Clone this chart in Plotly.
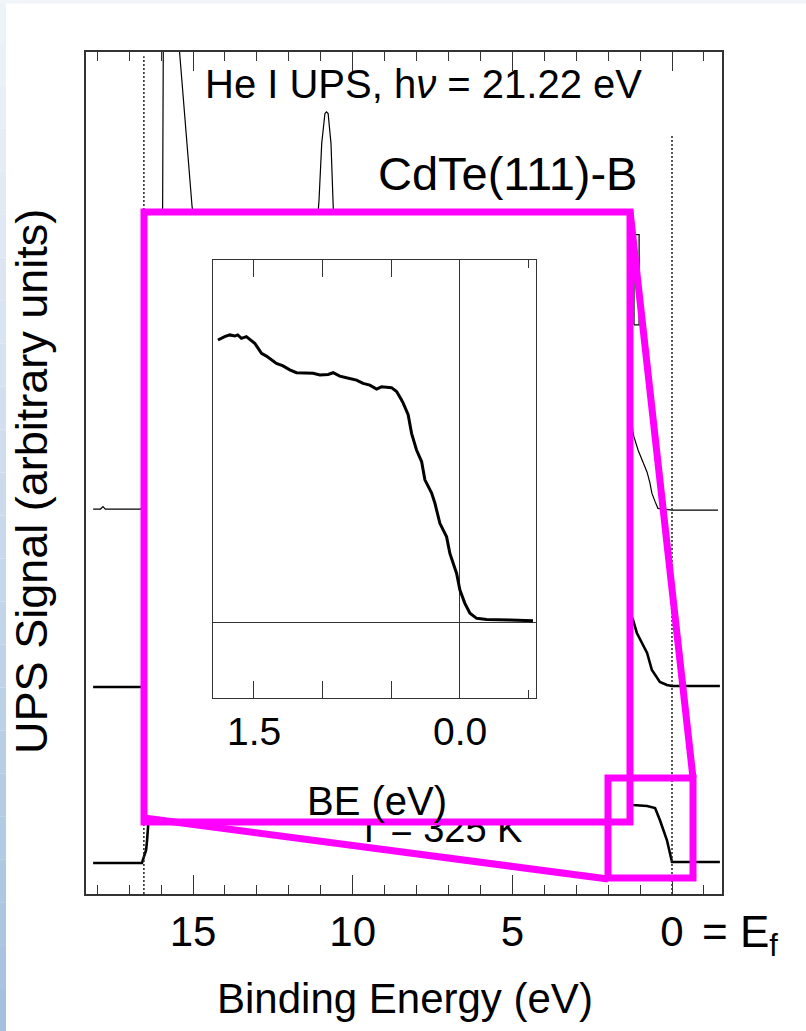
import plotly.graph_objects as go

# ---------------- data ----------------
# Main panel: binding energy (eV) vs UPS signal (arbitrary units, stacked offsets)
be_top = [18.13, 17.90, 17.82, 17.75, 16.66, 16.45, 16.2, 16.0, 15.953, 15.934, 15.93,
          15.41, 15.03, 14.5, 13.0, 12.0, 11.3, 11.055, 10.97, 10.87, 10.82, 10.77,
          10.68, 10.61, 10.3, 9.0, 6.0, 4.0, 2.5, 1.6, 1.4, 1.22, 1.19, 1.06, 0.91,
          0.78, 0.69, 0.63, 0.53, 0.44, 0.0, -1.44]
sig_top = [45.72, 45.72, 46.0, 45.72, 45.72, 46.0, 60, 78, 81.6, 99.3, 123.8,
           99.4, 81.6, 70, 60, 62, 70, 82.4, 89.15, 92.7, 92.9, 92.7,
           89.15, 81.6, 68, 62, 62, 66, 70, 66, 62, 54.75, 54.28, 52.7, 51.3,
           50.1, 48.8, 47.6, 46.6, 45.8, 45.6, 45.6]

# small closed feature of the thin curve near 1.1 eV
be_top_frag = [1.19, 1.19, 1.03, 1.03, 1.19]
sig_top_frag = [67.6, 78.3, 78.3, 67.6, 67.6]

be_mid = [18.13, 16.66, 16.45, 16.3, 16.0, 15.5, 15.0, 14.0, 12.0, 11.0, 10.8, 10.5,
          9.0, 6.0, 3.5, 2.0, 1.4, 1.22, 1.10, 0.78, 0.63, 0.38, 0.16, 0.0, -1.50]
sig_mid = [24.58, 24.58, 24.6, 45, 62, 66, 55, 42, 36, 42, 60, 42,
           36, 38, 42, 40, 34, 32.54, 31.0, 28.62, 26.6, 25.18, 24.82, 24.7, 24.7]

be_bot = [18.13, 16.60, 16.57, 16.47, 16.44, 16.41, 16.3, 16.0, 15.6, 15.0, 14.0,
          13.0, 12.0, 11.2, 10.8, 10.4, 9.0, 7.0, 5.0, 3.5, 2.5, 1.8, 1.4, 1.22,
          0.78, 0.53, 0.38, 0.16, 0.0, -1.50]
sig_bot = [3.68, 3.68, 4.04, 5.23, 6.41, 7.96, 20, 40, 50, 45, 35,
           30, 28, 30, 45, 30, 22, 20, 22, 24, 20, 14, 11, 10.57,
           10.45, 10.21, 8.79, 6.41, 3.8, 3.8]

# reference (dotted) lines: secondary-electron cutoff and Fermi level
cutoff_be = [16.54, 16.54]
cutoff_sig = [0, 99.5]
ef_be = [0.0, 0.0]
ef_sig = [0, 90.1]

# temperature label
temp_label = ["T = 325 K"]
temp_be = [7.27]
temp_sig = [7.34]

# main axis ticks
main_tickvals = [15, 10, 5, 0]
main_ticktext = ["15", "10", "5", "0"]

# Inset: valence-band edge, BE (eV) vs normalised signal
be_in = [1.762, 1.713, 1.676, 1.640, 1.618, 1.591, 1.555, 1.531, 1.494, 1.470,
         1.445, 1.409, 1.372, 1.336, 1.288, 1.239, 1.190, 1.069, 1.020, 0.960,
         0.923, 0.875, 0.826, 0.753, 0.705, 0.656, 0.607, 0.571, 0.498, 0.461,
         0.425, 0.413, 0.377, 0.352, 0.316, 0.279, 0.255, 0.206, 0.182, 0.146,
         0.097, 0.073, 0.024, 0.000, -0.036, -0.073, -0.122, -0.195, -0.364, -0.532]
sig_in = [1.000, 1.012, 1.018, 1.014, 1.018, 1.006, 1.012, 1.003, 0.988, 0.971,
          0.953, 0.943, 0.929, 0.917, 0.908, 0.894, 0.884, 0.882, 0.876, 0.878,
          0.884, 0.872, 0.866, 0.858, 0.846, 0.840, 0.826, 0.834, 0.831, 0.817,
          0.787, 0.776, 0.735, 0.669, 0.610, 0.569, 0.504, 0.457, 0.421, 0.350,
          0.302, 0.243, 0.172, 0.113, 0.066, 0.031, 0.013, 0.009, 0.007, 0.004]
inset_tickvals = [1.5, 1.0, 0.5, 0.0]
inset_label_vals = [1.5, 0.0]
inset_label_text = ["1.5", "0.0"]

# ---------------- styling ----------------
FONT = "Liberation Sans, Arial, Helvetica, sans-serif"
INK = "#000000"
FRAME = "#333333"
MAGENTA = "#FF00FF"

W, H = 806, 1031
ML, MR, MT, MB = 86, 84, 52, 137
PW, PH = W - ML - MR, H - MT - MB


def px(xp):
    return (xp - ML) / PW


def py(yp):
    return (H - MB - yp) / PH


fig = go.Figure()

# main spectra
fig.add_trace(go.Scatter(x=be_top, y=sig_top, mode="lines",
                         line=dict(color=INK, width=1.2), hoverinfo="skip"))
fig.add_trace(go.Scatter(x=be_top_frag, y=sig_top_frag, mode="lines",
                         line=dict(color=INK, width=1.2), hoverinfo="skip"))
fig.add_trace(go.Scatter(x=be_mid, y=sig_mid, mode="lines",
                         line=dict(color=INK, width=2.6), hoverinfo="skip"))
fig.add_trace(go.Scatter(x=be_bot, y=sig_bot, mode="lines",
                         line=dict(color=INK, width=2.6), hoverinfo="skip"))
fig.add_trace(go.Scatter(x=cutoff_be, y=cutoff_sig, mode="lines",
                         line=dict(color="#222222", width=1.5, dash="2px,2px"),
                         hoverinfo="skip"))
fig.add_trace(go.Scatter(x=ef_be, y=ef_sig, mode="lines",
                         line=dict(color="#222222", width=1.5, dash="2px,2px"),
                         hoverinfo="skip"))
fig.add_trace(go.Scatter(x=temp_be, y=temp_sig, mode="text", text=temp_label,
                         textposition="middle center",
                         textfont=dict(family=FONT, size=38, color=INK),
                         hoverinfo="skip"))

# white cover panel for the magnified view (its own subplot, drawn above main traces)
fig.add_trace(go.Scatter(x=[0.5], y=[0.5], mode="markers", marker=dict(opacity=0),
                         xaxis="x2", yaxis="y2", hoverinfo="skip"))

# inset spectrum
fig.add_trace(go.Scatter(x=be_in, y=sig_in, mode="lines",
                         line=dict(color=INK, width=3), xaxis="x3", yaxis="y3",
                         hoverinfo="skip"))

axis_common = dict(showgrid=False, zeroline=False)

fig.update_layout(
    width=W, height=H, autosize=False,
    margin=dict(l=ML, r=MR, t=MT, b=MB, pad=0),
    paper_bgcolor="white", plot_bgcolor="white",
    showlegend=False,
    font=dict(family=FONT, color=INK),
    xaxis=dict(**axis_common, domain=[0, 1], range=[18.353, -1.566],
               showline=True, linecolor=FRAME, linewidth=1.5, mirror="allticks",
               ticks="inside", ticklen=19, tickwidth=1.3, tickcolor=FRAME,
               tickmode="array", tickvals=main_tickvals, ticktext=main_ticktext,
               tickfont=dict(family=FONT, size=42, color=INK),
               ticklabelstandoff=0,
               minor=dict(ticks="inside", ticklen=9, tickwidth=1.3,
                          tickcolor=FRAME, dtick=1, tick0=0, showgrid=False)),
    yaxis=dict(**axis_common, domain=[0, 1], range=[0, 100],
               showline=True, linecolor=FRAME, linewidth=1.5, mirror=True,
               ticks="", showticklabels=False),
    xaxis2=dict(visible=False, domain=[px(144), px(630)], range=[0, 1],
                anchor="y2", showgrid=False, zeroline=False),
    yaxis2=dict(visible=False, domain=[py(822), py(212)], range=[0, 1],
                anchor="x2", showgrid=False, zeroline=False),
    xaxis3=dict(showgrid=False, domain=[px(213), px(536)], range=[1.798, -0.554],
                anchor="y3", showline=True, linecolor=FRAME, linewidth=1.4,
                mirror="allticks", ticks="inside", ticklen=17, tickwidth=1.3,
                tickcolor=FRAME, tickmode="array", tickvals=inset_tickvals,
                showticklabels=False,
                zeroline=True, zerolinecolor=FRAME, zerolinewidth=1.4,
                minor=dict(ticks="inside", ticklen=8, tickwidth=1.3,
                           tickcolor=FRAME, dtick=0.5, tick0=0, showgrid=False)),
    yaxis3=dict(showgrid=False, domain=[py(698), py(260)], range=[-0.2695, 1.2837],
                anchor="x3", showline=True, linecolor=FRAME, linewidth=1.4,
                mirror=True, ticks="", showticklabels=False,
                zeroline=True, zerolinecolor=FRAME, zerolinewidth=1.4),
)

annotations = [
    dict(text="He I UPS, h<i>ν</i> = 21.22 eV", x=px(423), y=py(84.4),
         font=dict(size=40)),
    dict(text="CdTe(111)-B", x=px(507), y=py(173.7), font=dict(size=47)),
    dict(text="= E<sub>f</sub>", x=px(700), y=py(905), xanchor="left",
         yanchor="top", font=dict(size=44)),
    dict(text="Binding Energy (eV)", x=px(405), y=py(998.4), font=dict(size=42)),
    dict(text="UPS Signal (arbitrary units)", x=px(31.4), y=py(481.5),
         textangle=-90, font=dict(size=45)),
    dict(text="BE (eV)", x=px(377), y=py(801.1), font=dict(size=40)),
]
for a in annotations:
    base = dict(xref="paper", yref="paper", showarrow=False, xanchor="center",
                yanchor="middle")
    base.update(a)
    base["font"] = dict(family=FONT, color=INK, **a["font"])
    fig.add_annotation(**base)

# inset tick labels (only 1.5 and 0.0 are labelled)
for v, t in zip(inset_label_vals, inset_label_text):
    fig.add_annotation(text=t, x=v, xref="x3", y=py(731.5), yref="paper",
                       showarrow=False, xanchor="center", yanchor="middle",
                       font=dict(family=FONT, size=39, color=INK))

# magenta zoom indicator (box, small box, connectors)
mag = dict(color=MAGENTA, width=7)
shapes = [
    dict(type="rect", x0=px(144), x1=px(630), y0=py(822), y1=py(212)),
    dict(type="rect", x0=px(608), x1=px(693), y0=py(878), y1=py(778)),
    dict(type="line", x0=px(630), y0=py(211), x1=px(693), y1=py(778)),
    dict(type="line", x0=px(144), y0=py(818), x1=px(608), y1=py(879)),
]
for s in shapes:
    fig.add_shape(xref="paper", yref="paper", layer="above", line=mag,
                  fillcolor="rgba(0,0,0,0)", **s)

# slide-like background edge: light blue gradient strip on the left, faint top strip
n = 24
c_top = (240, 244, 249)
c_bot = (164, 192, 222)
for i in range(n):
    t = (i + 0.5) / n
    col = tuple(int(round(c_top[k] + (c_bot[k] - c_top[k]) * t)) for k in range(3))
    fig.add_shape(type="rect", xref="paper", yref="paper", layer="below",
                  x0=px(0), x1=px(6), y0=py(H * (i + 1) / n), y1=py(H * i / n),
                  line=dict(width=0), fillcolor="rgb(%d,%d,%d)" % col)
fig.add_shape(type="rect", xref="paper", yref="paper", layer="below",
              x0=px(0), x1=px(W), y0=py(3.5), y1=py(0), line=dict(width=0),
              fillcolor="rgb(241,244,248)")

fig.write_html("out.html", config={"displayModeBar": False})
